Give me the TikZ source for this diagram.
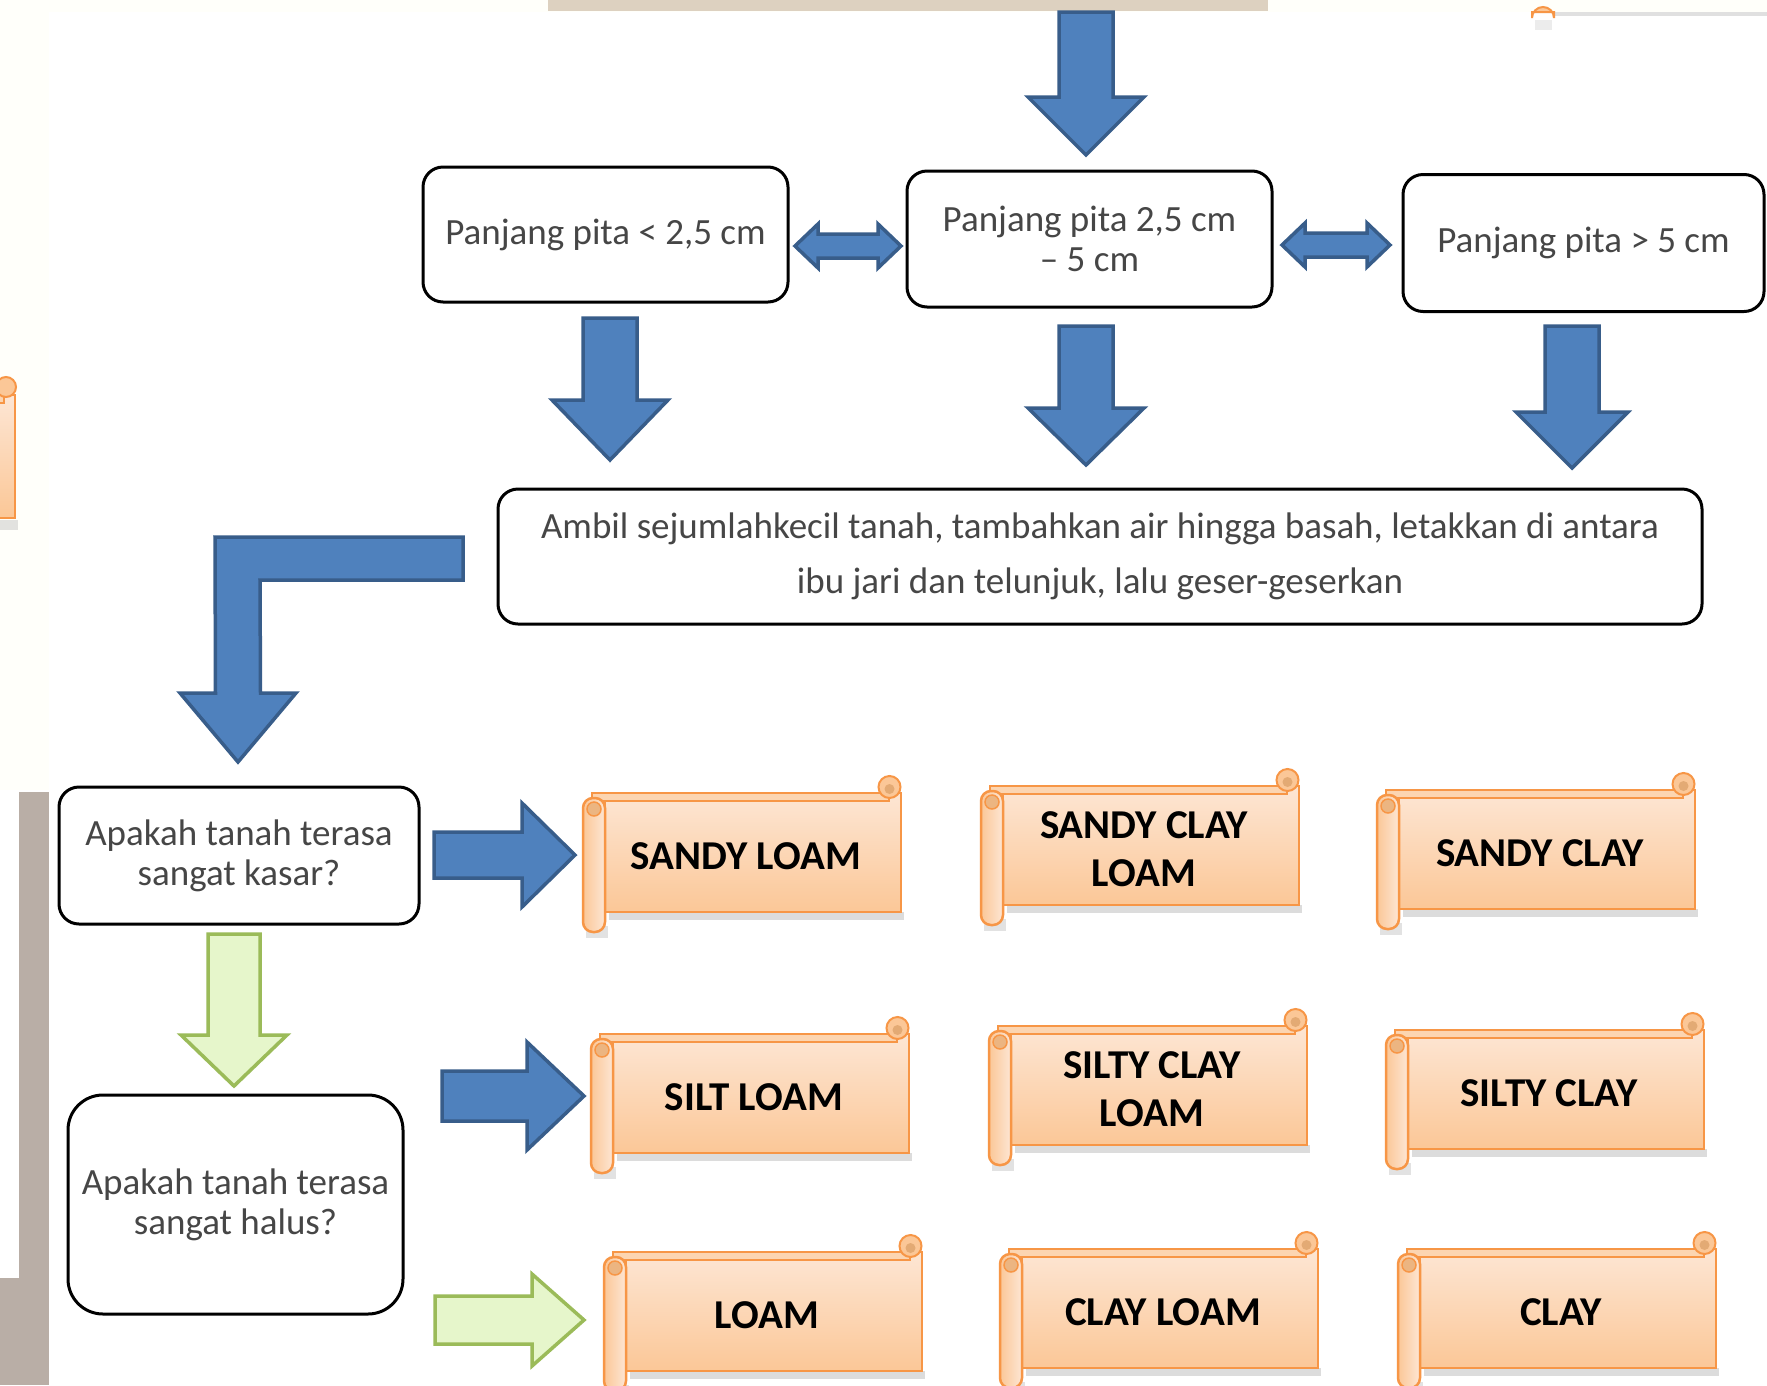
\documentclass[tikz,border=0pt]{standalone}
\usepackage{fontspec}
\setmainfont{Carlito}
\usetikzlibrary{calc}
\definecolor{blueF}{HTML}{4F81BD}
\definecolor{blueD}{HTML}{385D8A}
\definecolor{greenF}{HTML}{E6F6CB}
\definecolor{greenD}{HTML}{9BBB59}
\definecolor{orD}{HTML}{F79646}
\definecolor{peachT}{HTML}{FDE6D4}
\definecolor{peachB}{HTML}{FBC797}
\definecolor{txtG}{HTML}{464646}
\definecolor{beige}{HTML}{DDD1C0}
\definecolor{cream}{HTML}{FFFFFA}
\definecolor{barG}{HTML}{B9AEA6}

% vertical block arrow: style, start, tip, head length, half shaft, half head
\newcommand\downblock[6]{\draw[#1] ($(#2)+(-#5,0)$) -- ($(#2)+(#5,0)$) -- ($(#3)+(#5,-#4)$) -- ($(#3)+(#6,-#4)$) -- (#3) -- ($(#3)+(-#6,-#4)$) -- ($(#3)+(-#5,-#4)$) -- cycle;}
% horizontal block arrow: style, start, tip, head length, half shaft, half head
\newcommand\rightblock[6]{\draw[#1] ($(#2)+(0,-#5)$) -- ($(#3)+(-#4,-#5)$) -- ($(#3)+(-#4,-#6)$) -- (#3) -- ($(#3)+(-#4,#6)$) -- ($(#3)+(-#4,#5)$) -- ($(#2)+(0,#5)$) -- cycle;}
% double block arrow: style, left tip, right tip, head length, half shaft, half head
\newcommand\dblblock[6]{\draw[#1] (#2) -- ($(#2)+(#4,-#6)$) -- ($(#2)+(#4,-#5)$) -- ($(#3)+(-#4,-#5)$) -- ($(#3)+(-#4,-#6)$) -- (#3) -- ($(#3)+(-#4,#6)$) -- ($(#3)+(-#4,#5)$) -- ($(#2)+(#4,#5)$) -- ($(#2)+(#4,#6)$) -- cycle;}
% scroll: name, x0, y0, text
\newcommand\scrollbox[4]{%
\begin{scope}[shift={(#2,#3)}]
 \fill[black!30,opacity=.45] (26,136) rectangle (321,144);
 \fill[black!25,opacity=.45] (3,150) rectangle (25,162);
 \shadedraw[top color=peachT,bottom color=peachB,draw=orD,line width=2.5] (22,17) rectangle (318,136);
 \filldraw[fill=peachB!75!white,draw=orD,line width=2] (9,17) rectangle (306,25);
 \filldraw[fill=peachB,draw=orD,line width=2] (306.5,11) circle[radius=11];
 \fill[brown!40!peachB] (306.5,13) circle[radius=5];
 \shadedraw[left color=peachB,right color=peachT,draw=orD,line width=2.5,rounded corners=10] (0,22) rectangle (22,156);
 \filldraw[fill=brown!25!peachB,draw=orD,line width=1.5] (11,33) circle[radius=7];
 \node[scrolltext] (#1) at (163,80) {#4};
\end{scope}}

\tikzset{
 qbox/.style={draw=black,line width=3,rounded corners=20,fill=white,align=center,text=txtG,font=\fontsize{37}{40}\selectfont,inner sep=0},
 bluearr/.style={fill=blueF,draw=blueD,line width=3.5,line join=miter},
 greenarr/.style={fill=greenF,draw=greenD,line width=3.5,line join=miter},
 scrolltext/.style={align=center,text=black,font=\fontsize{41}{48}\selectfont\bfseries,inner sep=0}
}

\begin{document}
\begin{tikzpicture}[x=1pt,y=-1pt]
\useasboundingbox (0,0) rectangle (1767,1385);
\clip (0,0) rectangle (1767,1385);
\fill[white] (0,0) rectangle (1767,1385);
% fragments at the edges
\fill[cream] (0,0) rectangle (1767,12);
\fill[cream] (0,0) rectangle (49,790);
\fill[beige] (548,0) rectangle (1268,11);
\fill[black!12] (1555,12) rectangle (1767,16);
\fill[black!12,opacity=.6] (1535,20) rectangle (1552,30);
\filldraw[fill=peachB,draw=orD,line width=2] (1532,12) -- (1532,18) arc[start angle=180,end angle=360,radius=11] -- (1554,12) -- cycle;
\fill[barG] (19,792) rectangle (49,1385);
\fill[barG] (0,1278) rectangle (49,1385);
% partial scroll at the left edge
\fill[black!25,opacity=.45] (-20,520) rectangle (18,530);
\shadedraw[top color=peachT,bottom color=peachB,draw=orD,line width=2.5] (-20,395) rectangle (15,518);
\filldraw[fill=peachB!75!white,draw=orD,line width=2] (-20,395) rectangle (4,403);
\filldraw[fill=peachB,draw=orD,line width=2] (6,387) circle[radius=10];

% boxes
\node[qbox,minimum width=365,minimum height=135] (b1) at (605.5,234.5) {Panjang pita < 2,5 cm};
\node[qbox,minimum width=365,minimum height=136] (b2) at (1089.5,239) {Panjang pita 2,5 cm\\-- 5 cm};
\node[qbox,minimum width=361,minimum height=137] (b3) at (1583.5,243) {Panjang pita > 5 cm};
\node[qbox,minimum width=1204,minimum height=135,font=\fontsize{37}{55}\selectfont] (amb) at (1100,556.5)
 {Ambil sejumlahkecil tanah, tambahkan air hingga basah, letakkan di antara\\ibu jari dan telunjuk, lalu geser-geserkan};
\node[qbox,minimum width=360,minimum height=137] (q1) at (239,855.5) {Apakah tanah terasa\\sangat kasar?};
\node[qbox,minimum width=335,minimum height=219,rounded corners=35] (q2) at (235.5,1204.5) {Apakah tanah terasa\\sangat halus?};

% scrolls
\scrollbox{s1}{583}{776}{SANDY LOAM}
\scrollbox{s2}{981}{769}{SANDY CLAY\\LOAM}
\scrollbox{s3}{1377}{773}{SANDY CLAY}
\scrollbox{s4}{591}{1017}{SILT LOAM}
\scrollbox{s5}{989}{1009}{SILTY CLAY\\LOAM}
\scrollbox{s6}{1386}{1013}{SILTY CLAY}
\scrollbox{s7}{604}{1235}{LOAM}
\scrollbox{s8}{1000}{1232}{CLAY LOAM}
\scrollbox{s9}{1398}{1232}{CLAY}

% arrow end points
\coordinate (a0s) at (1086,12);   \coordinate (a0e) at (1086,155);
\coordinate (d1s) at (610,318);   \coordinate (d1e) at (610,460);
\coordinate (d2s) at (1086,326);  \coordinate (d2e) at (1086,465);
\coordinate (d3s) at (1572,326);  \coordinate (d3e) at (1572,468);
\coordinate (x1s) at (795,246);   \coordinate (x1e) at (901,246);
\coordinate (x2s) at (1282,245);  \coordinate (x2e) at (1390,245);
\coordinate (Ls) at (463,558.5);  \coordinate (Lc) at (237.5,558.5); \coordinate (Le) at (238,762);
\coordinate (gs) at (234,934);    \coordinate (ge) at (234,1086);
\coordinate (r1s) at (434,855);   \coordinate (r1e) at (575,855);
\coordinate (r2s) at (442,1096);  \coordinate (r2e) at (584,1096);
\coordinate (r3s) at (435,1320);  \coordinate (r3e) at (584,1320);

\downblock{bluearr}{a0s}{a0e}{58}{27}{58}
\downblock{bluearr}{d1s}{d1e}{60}{27}{58}
\downblock{bluearr}{d2s}{d2e}{57}{27}{58}
\downblock{bluearr}{d3s}{d3e}{56}{27}{56}
\dblblock{bluearr}{x1s}{x1e}{23}{12}{22}
\dblblock{bluearr}{x2s}{x2e}{23}{12}{22}
\draw[bluearr] ($(Ls)+(0,-21.5)$) -- ($(Lc)+(-22.5,-21.5)$) -- ($(Le)+(-22.5,-69)$) -- ($(Le)+(-58,-69)$) -- (Le)
  -- ($(Le)+(58,-69)$) -- ($(Le)+(22.5,-69)$) -- ($(Lc)+(22.5,21.5)$) -- ($(Ls)+(0,21.5)$) -- cycle;
\downblock{greenarr}{gs}{ge}{51}{26}{53}
\rightblock{bluearr}{r1s}{r1e}{53}{23}{52}
\rightblock{bluearr}{r2s}{r2e}{57}{25}{54}
\rightblock{greenarr}{r3s}{r3e}{52}{24}{46}
\end{tikzpicture}
\end{document}
